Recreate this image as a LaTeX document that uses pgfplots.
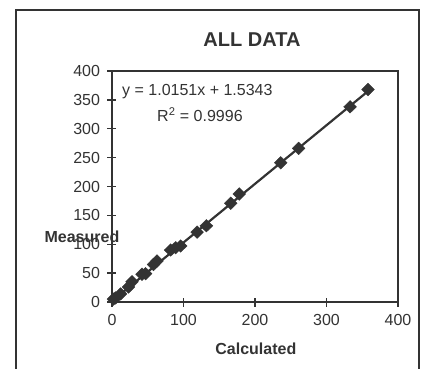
\documentclass[border=0pt]{standalone}
\usepackage{fontspec}
\setmainfont{Liberation Sans}
\usepackage{pgfplots}
\pgfplotsset{compat=1.18}
\definecolor{ink}{HTML}{333333}
\begin{document}
\begin{tikzpicture}
\path[use as bounding box] (-112bp,-67bp) rectangle (313bp,302bp);
\draw[ink, line width=1.6bp] (-96bp,-75bp) -- (-96bp,292bp) -- (307bp,292bp) -- (307bp,-75bp);
\begin{axis}[
  at={(0,0)}, anchor=south west,
  scale only axis, width=286bp, height=231bp,
  xmin=0, xmax=400, ymin=0, ymax=400,
  xtick={0,100,200,300,400}, ytick={0,50,100,150,200,250,300,350,400},
  axis line style={ink, line width=1.6bp},
  tick align=center, major tick length=9bp,
  tick style={ink, line width=1.3bp},
  xtick pos=bottom, ytick pos=left,
  /pgf/number format/assume math mode=true,
  ticklabel style={font=\fontsize{16bp}{18bp}\selectfont, text=ink},
  xticklabel style={yshift=-4bp},
  yticklabel style={xshift=-4bp},
  title={ALL DATA},
  title style={font=\fontsize{20bp}{22bp}\selectfont\bfseries, text=ink, at={(axis description cs:0.4895,1.108)}, anchor=center},
  xlabel={Calculated},
  xlabel style={font=\fontsize{16bp}{18bp}\selectfont\bfseries, text=ink, at={(axis description cs:0.503,-0.203)}, anchor=center},
  ylabel={Measured},
  ylabel style={font=\fontsize{16bp}{18bp}\selectfont\bfseries, text=ink, rotate=-90, at={(axis description cs:-0.105,0.281)}, anchor=center},
  clip=false,
]
\addplot[ink, line width=2.2bp] coordinates {(0,1.5343) (360,366.97)};
\addplot[only marks, mark=diamond*, mark size=6.3bp, ink, mark options={fill=ink, draw=ink, xscale=1.35}] coordinates {
(358,368) (333,338) (261,266) (236,241) (178,187) (166,171)
(132,132) (119,121) (96,97) (89,94) (82,90) (63,71) (58,65)
(47,49) (42,48) (28,35) (23,26) (12,14) (5,7) (2,5)
};
\node[anchor=west, font=\fontsize{16bp}{18bp}\selectfont, text=ink, inner sep=0pt] at (axis cs:14,363.6) {y = 1.0151x + 1.5343};
\node[anchor=center, font=\fontsize{16bp}{18bp}\selectfont, text=ink, inner sep=0pt] at (axis cs:123,324) {R\textsuperscript{2} = 0.9996};
\end{axis}
\end{tikzpicture}
\end{document}
